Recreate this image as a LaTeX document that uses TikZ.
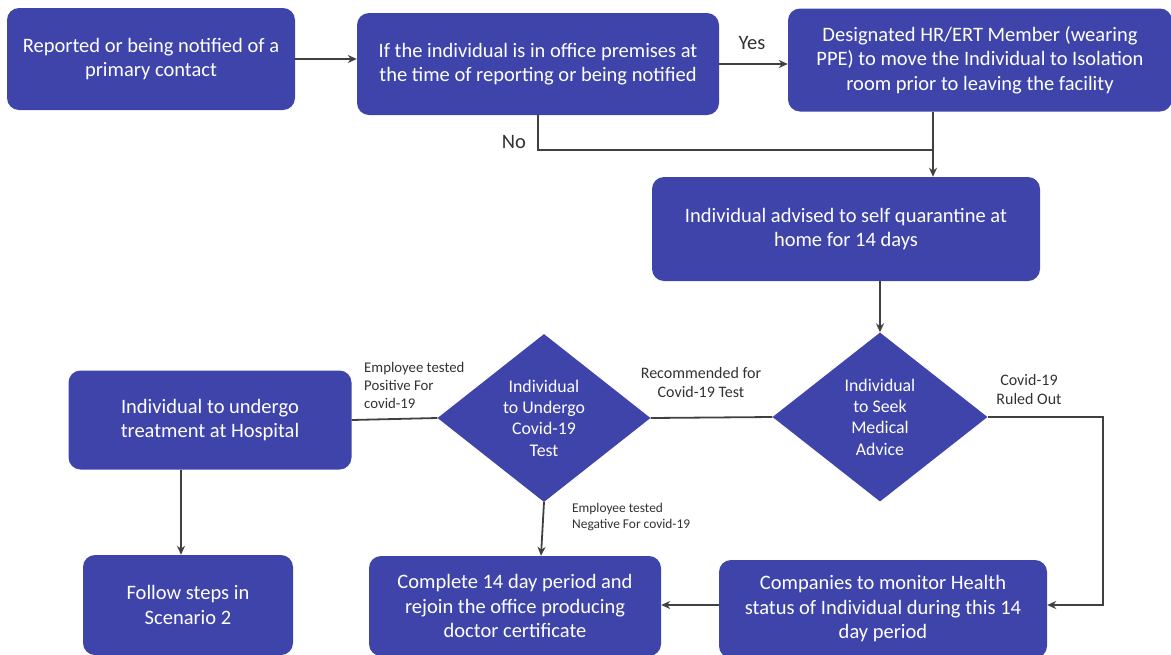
\documentclass[tikz,border=0pt]{standalone}
\usepackage{fontspec}
\setmainfont{Carlito}
\usetikzlibrary{shapes.geometric,arrows.meta}
\definecolor{boxblue}{RGB}{62,68,169}
\definecolor{linegray}{RGB}{64,64,64}
\definecolor{labelgray}{RGB}{50,50,50}
\tikzset{
  box/.style={draw=none, fill=boxblue, rounded corners=12pt, text=white, align=center,
    inner sep=0pt, font=\fontsize{20.5}{24.5}\selectfont},
  dec/.style={diamond, draw=none, fill=boxblue, text=white, align=center, inner sep=0pt,
    font=\fontsize{17.8}{21.3}\selectfont},
  conn/.style={draw=linegray, line width=1.8pt},
  arr/.style={conn, -{Stealth[length=9pt,width=8pt]}},
  lbl/.style={text=labelgray, inner sep=0pt, align=center, font=\fontsize{16}{19}\selectfont},
  slbl/.style={text=labelgray, inner sep=0pt, align=left, font=\fontsize{14.8}{18}\selectfont},
  xlbl/.style={text=labelgray, inner sep=0pt, align=left, font=\fontsize{13.4}{16}\selectfont},
  yn/.style={text=labelgray, inner sep=0pt, font=\fontsize{20.5}{22}\selectfont}
}
\begin{document}
\begin{tikzpicture}[x=1pt,y=-1pt]
\useasboundingbox (0,0) rectangle (1171,654);

\node[box, minimum width=288pt, minimum height=102pt] (rep) at (151,59)
  {Reported or being notified of a\\primary contact};
\node[box, minimum width=362pt, minimum height=102pt] (ifi) at (538,64)
  {If the individual is in office premises at\\the time of reporting or being notified};
\node[box, minimum width=384pt, minimum height=103pt] (des) at (980,60)
  {Designated HR/ERT Member (wearing\\PPE) to move the Individual to Isolation\\room prior to leaving the facility};
\node[box, minimum width=388pt, minimum height=104pt] (adv) at (846,229)
  {Individual advised to self quarantine at\\home for 14 days};
\node[dec, minimum width=215pt, minimum height=169pt] (seek) at (880,417)
  {Individual\\to Seek\\Medical\\Advice};
\node[dec, minimum width=213pt, minimum height=168pt] (und) at (544,418)
  {Individual\\to Undergo\\Covid-19\\Test};
\node[box, minimum width=283pt, minimum height=99pt] (hos) at (210,420)
  {Individual to undergo\\treatment at Hospital};
\node[box, minimum width=210pt, minimum height=100pt] (scn) at (188,605)
  {Follow steps in\\Scenario 2};
\node[box, minimum width=292pt, minimum height=100pt] (cmp) at (515,606)
  {Complete 14 day period and\\rejoin the office producing\\doctor certificate};
\node[box, minimum width=328pt, minimum height=98pt] (mon) at (883,609)
  {Companies to monitor Health\\status of Individual during this 14\\day period};

\coordinate (nob) at (538,150);
\coordinate (noc) at (933,150);
\coordinate (roa) at (1103,417);
\coordinate (rob) at (1103,605);

\draw[arr] (rep.east |- 0,59) -- (ifi.west |- 0,59);
\draw[arr] (ifi.east) -- (des.west |- ifi.east);
\draw[conn] (ifi.south -| nob) -- (nob) -- (noc);
\draw[arr] (des.south -| noc) -- (adv.north -| noc);
\draw[arr] (adv.south -| seek.north) -- (seek.north);
\draw[conn] (seek.west) -- (und.east);
\draw[conn] (und.west) -- (hos.east);
\draw[arr] (und.south) -- (cmp.north -| 541,0);
\draw[arr] (hos.south -| 181,0) -- (scn.north -| 181,0);
\draw[arr] (seek.east) -- (roa) -- (rob) -- (mon.east |- rob);
\draw[arr] (mon.west |- rob) -- (cmp.east |- rob);

\node[yn] (yes) at (752,43) {Yes};
\node[yn] (no) at (514,142) {No};
\node[slbl, anchor=north west] (pos) at (364,362) {Employee tested\\Positive For\\covid-19};
\node[lbl] (rec) at (701,382) {Recommended for\\Covid-19 Test};
\node[lbl] (rul) at (1029,389) {Covid-19\\Ruled Out};
\node[xlbl, anchor=north west] (neg) at (572,503) {Employee tested\\Negative For covid-19};
\end{tikzpicture}
\end{document}
